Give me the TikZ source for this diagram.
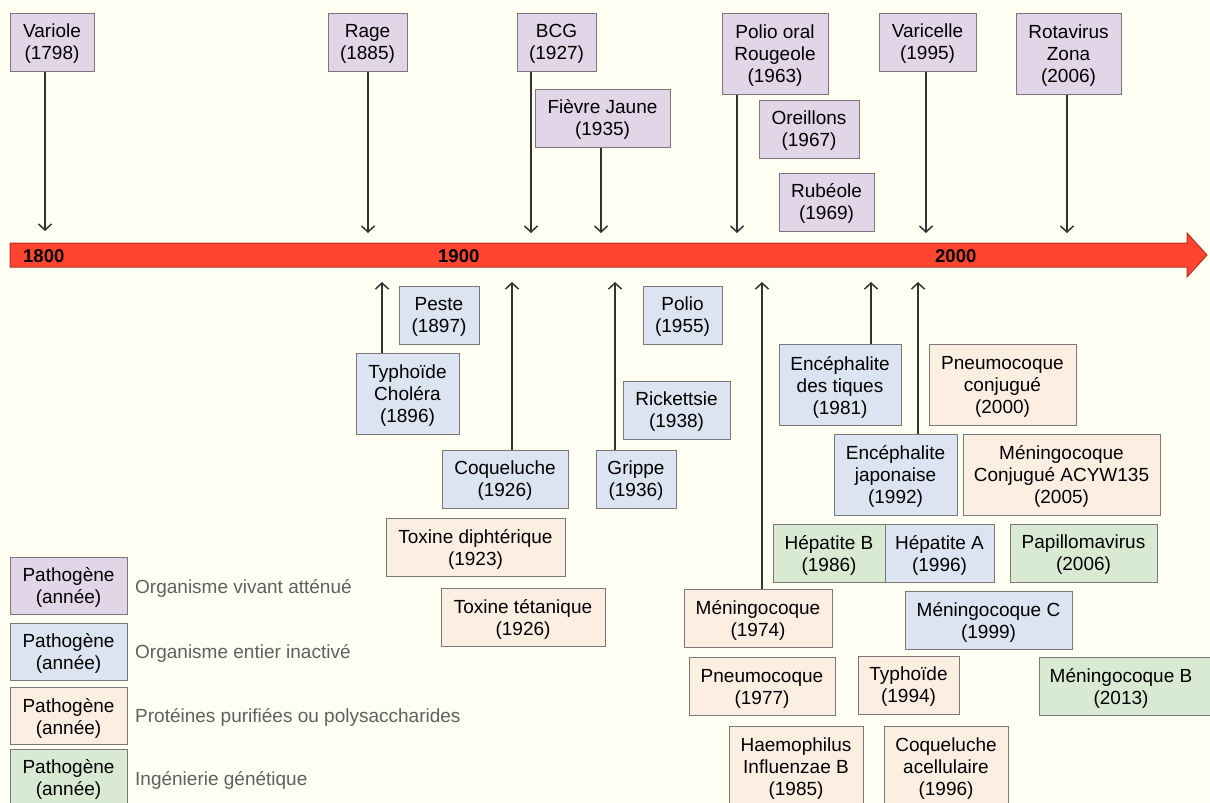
\documentclass[tikz,border=0pt]{standalone}
\usepackage{fontspec}
\setmainfont{Liberation Sans}
\usetikzlibrary{arrows.meta}
\definecolor{bgc}{HTML}{FEFEF3}
\definecolor{cPurple}{HTML}{E1D5E7}
\definecolor{cBlue}{HTML}{DBE4F0}
\definecolor{cOrange}{HTML}{FDEEE2}
\definecolor{cGreen}{HTML}{D9EAD3}
\definecolor{boxline}{HTML}{787878}
\definecolor{lineC}{HTML}{333333}
\definecolor{redF}{HTML}{FF4530}
\definecolor{redD}{HTML}{B8321F}
\definecolor{legT}{HTML}{606060}
\tikzset{
  vbox/.style={draw=boxline, line width=1pt, inner sep=0pt, align=center, text depth=-2pt,
    font=\fontsize{19}{22}\selectfont},
  pur/.style={vbox, fill=cPurple},
  blu/.style={vbox, fill=cBlue},
  ora/.style={vbox, fill=cOrange},
  gre/.style={vbox, fill=cGreen},
  conn/.style={draw=lineC, line width=1.1pt, -{Straight Barb[length=6pt,width=13pt,line width=1.5pt]}},
  yearlab/.style={font=\fontsize{18.5}{20}\selectfont\bfseries, anchor=west, inner sep=0pt},
  legtext/.style={font=\fontsize{19}{21}\selectfont, text=legT, anchor=west, inner sep=0pt},
}
\begin{document}
\begin{tikzpicture}[x=1pt,y=-1pt]
\useasboundingbox (0,0) rectangle (1210,803);
\clip (0,0) rectangle (1210,803);
\fill[bgc] (0,0) rectangle (1210,803);

% timeline
\draw[fill=redF, draw=redD, line width=1pt] (10,243) -- (1187,243) -- (1187,233) -- (1207,255) -- (1187,277) -- (1187,267) -- (10,267) -- cycle;
\node[yearlab] (y1800) at (23,256) {1800};
\node[yearlab] (y1900) at (438,256) {1900};
\node[yearlab] (y2000) at (935,256) {2000};

% top: live attenuated
\node[pur, minimum width=84, minimum height=58] (variole) at (52,42) {Variole\\(1798)};
\node[pur, minimum width=79, minimum height=58] (rage) at (367.5,42) {Rage\\(1885)};
\node[pur, minimum width=79, minimum height=58] (bcg) at (556.5,42) {BCG\\(1927)};
\node[pur, minimum width=135, minimum height=58] (fievre) at (602.5,118) {Fièvre Jaune\\(1935)};
\node[pur, minimum width=106, minimum height=81] (poliooral) at (775,53.5) {Polio oral\\Rougeole\\(1963)};
\node[pur, minimum width=100, minimum height=58] (oreillons) at (809,129) {Oreillons\\(1967)};
\node[pur, minimum width=95, minimum height=58] (rubeole) at (826.5,202) {Rubéole\\(1969)};
\node[pur, minimum width=97, minimum height=58] (varicelle) at (927.5,42) {Varicelle\\(1995)};
\node[pur, minimum width=105, minimum height=81] (rotavirus) at (1068.5,53.5) {Rotavirus\\Zona\\(2006)};

% top arrow end points
\coordinate (tVariole) at (45,231);
\coordinate (tRage) at (368,233);
\coordinate (tBcg) at (531,233);
\coordinate (tFievre) at (601,233);
\coordinate (tPolioOral) at (737,233);
\coordinate (tVaricelle) at (926,233);
\coordinate (tRotavirus) at (1067,233);
\draw[conn] (variole.south -| tVariole) -- (tVariole);
\draw[conn] (rage.south -| tRage) -- (tRage);
\draw[conn] (bcg.south -| tBcg) -- (tBcg);
\draw[conn] (fievre.south -| tFievre) -- (tFievre);
\draw[conn] (poliooral.south -| tPolioOral) -- (tPolioOral);
\draw[conn] (varicelle.south -| tVaricelle) -- (tVaricelle);
\draw[conn] (rotavirus.south -| tRotavirus) -- (tRotavirus);

% bottom: inactivated
\node[blu, minimum width=80, minimum height=58] (peste) at (439,315) {Peste\\(1897)};
\node[blu, minimum width=103, minimum height=81] (typhchol) at (407.5,393.5) {Typhoïde\\Choléra\\(1896)};
\node[blu, minimum width=126, minimum height=58] (coqueluche) at (505,479) {Coqueluche\\(1926)};
\node[blu, minimum width=80, minimum height=58] (grippe) at (636,479) {Grippe\\(1936)};
\node[blu, minimum width=79, minimum height=58] (polio) at (682.5,315) {Polio\\(1955)};
\node[blu, minimum width=107, minimum height=58] (rickettsie) at (676.5,410) {Rickettsie\\(1938)};
\node[blu, minimum width=122, minimum height=81] (encetiques) at (840,385) {Encéphalite\\des tiques\\(1981)};
\node[blu, minimum width=123, minimum height=81] (encejap) at (895.5,474.5) {Encéphalite\\japonaise\\(1992)};
\node[gre, minimum width=112, minimum height=58] (hepB) at (829,553) {Hépatite B\\(1986)};
\node[blu, minimum width=109, minimum height=58] (hepA) at (939.5,553) {Hépatite A\\(1996)};
\node[blu, minimum width=167, minimum height=58] (meningoC) at (988.5,620) {Méningocoque C\\(1999)};

% purified proteins / polysaccharides
\node[ora, minimum width=147, minimum height=81] (pneumoconj) at (1002.5,384.5) {Pneumocoque\\conjugué\\(2000)};
\node[ora, minimum width=197, minimum height=81] (meningoacyw) at (1061.5,474.5) {Méningocoque\\Conjugué ACYW135\\(2005)};
\node[ora, minimum width=179, minimum height=58] (toxdiph) at (475.5,547) {Toxine diphtérique\\(1923)};
\node[ora, minimum width=164, minimum height=58] (toxtet) at (523,617) {Toxine tétanique\\(1926)};
\node[ora, minimum width=148, minimum height=58] (meningo74) at (758,618) {Méningocoque\\(1974)};
\node[ora, minimum width=146, minimum height=58] (pneumo77) at (762,686.5) {Pneumocoque\\(1977)};
\node[ora, minimum width=101, minimum height=58] (typho94) at (908.5,685) {Typhoïde\\(1994)};
\node[ora, minimum width=134, minimum height=81] (haemo) at (796,766.5) {Haemophilus\\Influenzae B\\(1985)};
\node[ora, minimum width=124, minimum height=81] (coqacell) at (946,766.5) {Coqueluche\\acellulaire\\(1996)};

% genetic engineering
\node[gre, minimum width=147, minimum height=58] (papillo) at (1083.5,553) {Papillomavirus\\(2006)};
\node[gre, minimum width=176, minimum height=58] (meningoB) at (1127,686) {Méningocoque B\hspace*{12pt}\\(2013)\hspace*{12pt}};

% bottom arrow end points
\coordinate (bTyphChol) at (382,282);
\coordinate (bCoqueluche) at (512,282);
\coordinate (bGrippe) at (615,282);
\coordinate (bMeningo) at (762,282);
\coordinate (bTiques) at (871,282);
\coordinate (bJap) at (918,282);
\draw[conn] (typhchol.north -| bTyphChol) -- (bTyphChol);
\draw[conn] (coqueluche.north -| bCoqueluche) -- (bCoqueluche);
\draw[conn] (grippe.north -| bGrippe) -- (bGrippe);
\draw[conn] (meningo74.north -| bMeningo) -- (bMeningo);
\draw[conn] (encetiques.north -| bTiques) -- (bTiques);
\draw[conn] (encejap.north -| bJap) -- (bJap);

% legend
\node[pur, minimum width=117, minimum height=57] (lg1) at (68.5,585.5) {Pathogène\\(année)};
\node[blu, minimum width=117, minimum height=57] (lg2) at (68.5,651.5) {Pathogène\\(année)};
\node[ora, minimum width=117, minimum height=57] (lg3) at (68.5,716) {Pathogène\\(année)};
\node[gre, minimum width=117, minimum height=57] (lg4) at (68.5,777.5) {Pathogène\\(année)};
\node[legtext] (lt1) at (135,588) {Organisme vivant atténué};
\node[legtext] (lt2) at (135,653) {Organisme entier inactivé};
\node[legtext] (lt3) at (135,717) {Protéines purifiées ou polysaccharides};
\node[legtext] (lt4) at (135,780) {Ingénierie génétique};
\end{tikzpicture}
\end{document}
